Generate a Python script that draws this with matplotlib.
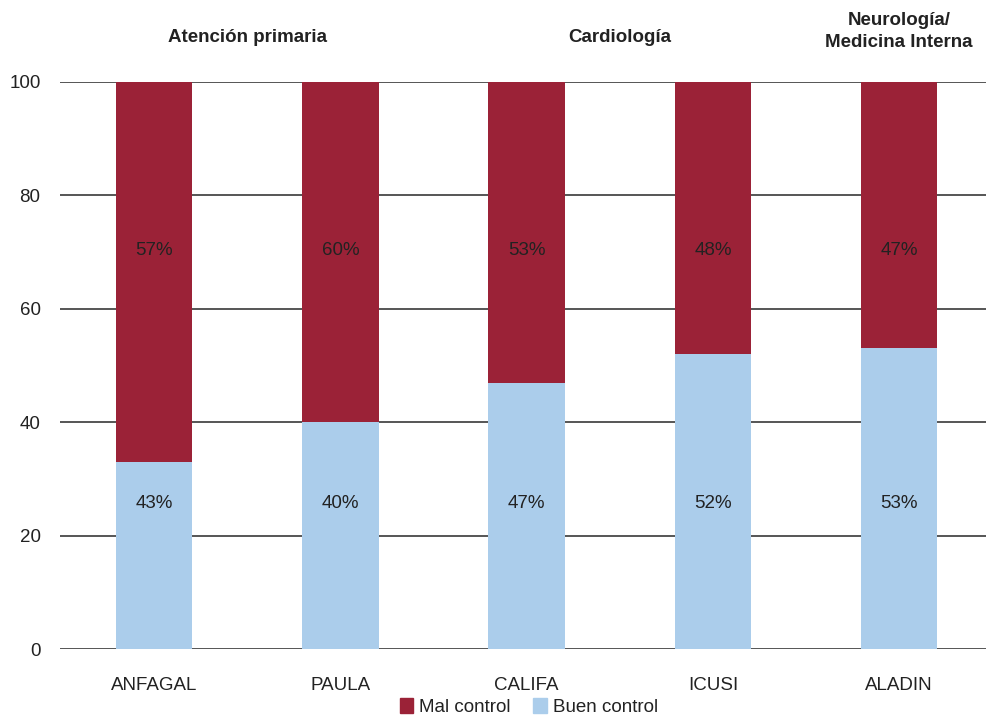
import numpy as np
import matplotlib
matplotlib.use("Agg")
import matplotlib.pyplot as plt
from matplotlib.patches import Patch

plt.rcParams['font.family'] = ['Liberation Sans Narrow', 'Liberation Sans', 'DejaVu Sans']

# data
studies = ["ANFAGAL", "PAULA", "CALIFA", "ICUSI", "ALADIN"]
buen_height = [33, 40, 47, 52, 53]  # bar heights as drawn
buen_labels = ["43%", "40%", "47%", "52%", "53%"]
mal_labels = ["57%", "60%", "53%", "48%", "47%"]
groups = ["Atención primaria", "Cardiología", "Neurología/\nMedicina Interna"]
group_pos = [0.5, 2.5, 4.0]

red = "#9B2237"
blue = "#ABCDEB"
txt = "#222222"

fig = plt.figure(figsize=(9.86, 7.19), dpi=100)
ax = fig.add_axes([60 / 986, 70 / 719, 926 / 986, 567 / 719])

x = np.arange(len(studies))
buen = np.array(buen_height)
mal = 100 - buen
w = 0.41
ax.bar(x, buen, width=w, color=blue, zorder=3)
ax.bar(x, mal, width=w, bottom=buen, color=red, zorder=3)

for i in range(len(studies)):
    ax.text(x[i], 70.2, mal_labels[i], ha="center", va="center", fontsize=13.5, color=txt, zorder=4)
    ax.text(x[i], 25.7, buen_labels[i], ha="center", va="center", fontsize=13.5, color=txt, zorder=4)

ax.set_xlim(-0.505, 4.466)
ax.set_ylim(0, 100)
ax.set_yticks([0, 20, 40, 60, 80, 100])
ax.yaxis.grid(True, color="#555555", linewidth=1.4, zorder=0)
ax.set_axisbelow(True)
for s in ax.spines.values():
    s.set_visible(False)
ax.tick_params(axis="both", length=0, labelsize=13.5, labelcolor=txt)
ax.tick_params(axis="y", pad=14)
ax.tick_params(axis="x", pad=20)
ax.set_xticks(x)
ax.set_xticklabels(studies)

for g, p in zip(groups, group_pos):
    ax.text(p, 1.078 if "\n" not in g else 1.089, g, transform=ax.get_xaxis_transform(),
            ha="center", va="center", fontsize=13.5, fontweight="bold", color=txt,
            linespacing=1.45)

handles = [Patch(color=red, label="Mal control"), Patch(color=blue, label="Buen control")]
fig.legend(handles=handles, loc="center", bbox_to_anchor=(529 / 986, 1 - 707 / 719), ncol=2,
           frameon=False, fontsize=13.5, handlelength=0.7, handleheight=0.9,
           handletextpad=0.35, columnspacing=1.2, labelcolor=txt)

fig.savefig("out.png", dpi=100)
